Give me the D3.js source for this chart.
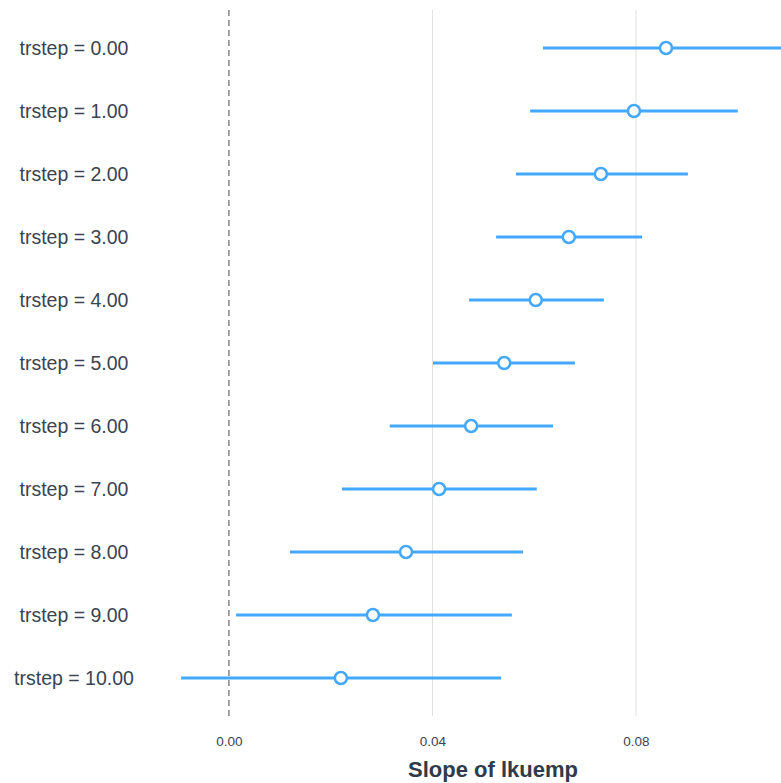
<!DOCTYPE html>
<html>
  <head>
    <meta charset="utf-8">
    <title>Slope of lkuemp</title>
    <style>
      body { margin: 0; background: #fff; }
      text { font-family: "Liberation Sans", Arial, sans-serif; }
    </style>
    <script src="https://d3js.org/d3.v7.min.js"></script>
  </head>
  <body>
    <script type="text/javascript">
      var labels = ["trstep = 0.00", "trstep = 1.00", "trstep = 2.00", "trstep = 3.00",
                    "trstep = 4.00", "trstep = 5.00", "trstep = 6.00", "trstep = 7.00",
                    "trstep = 8.00", "trstep = 9.00", "trstep = 10.00"];
      var slope = [0.0859, 0.0796, 0.0731, 0.0668, 0.0603, 0.0541, 0.0476, 0.0413, 0.0348, 0.0283, 0.0220];
      var lower = [0.0617, 0.0592, 0.0564, 0.0525, 0.0472, 0.0401, 0.0316, 0.0222, 0.0120, 0.0014, -0.0094];
      var upper = [0.1102, 0.1000, 0.0902, 0.0812, 0.0737, 0.0680, 0.0637, 0.0605, 0.0578, 0.0556, 0.0535];
      var tickValues = [0, 0.04, 0.08];
      var tickLabels = ["0.00", "0.04", "0.08"];
      var xDomain = [-0.0165, 0.1085];

      var width = 781, height = 783;
      var margin = {top: 10, right: 0, bottom: 67, left: 145};

      var svg = d3.select("body").append("svg")
        .attr("width", width)
        .attr("height", height);

      var x = d3.scaleLinear()
        .domain(xDomain)
        .range([margin.left, width - margin.right]);

      var y = d3.scalePoint()
        .domain(labels)
        .range([48, 678]);

      svg.append("defs").append("clipPath").attr("id", "clip")
        .append("rect")
          .attr("x", margin.left - 5).attr("y", 0)
          .attr("width", width - margin.left + 5).attr("height", height);

      // vertical grid
      svg.selectAll("line.grid")
        .data(tickValues.filter(function(d) { return d !== 0; }))
        .enter().append("line")
          .attr("class", "grid")
          .attr("x1", function(d) { return x(d); })
          .attr("x2", function(d) { return x(d); })
          .attr("y1", margin.top)
          .attr("y2", height - margin.bottom)
          .attr("stroke", "#e1e1e1")
          .attr("stroke-width", 1);

      // zero line
      svg.append("line")
        .attr("x1", x(0)).attr("x2", x(0))
        .attr("y1", margin.top).attr("y2", height - margin.bottom)
        .attr("stroke", "#444")
        .attr("stroke-width", 1)
        .attr("stroke-dasharray", "6,4");

      var rows = labels.map(function(l, i) {
        return {label: l, est: slope[i], lo: lower[i], hi: upper[i]};
      });

      var g = svg.append("g").attr("clip-path", "url(#clip)");

      g.selectAll("line.ci")
        .data(rows)
        .enter().append("line")
          .attr("class", "ci")
          .attr("x1", function(d) { return x(d.lo); })
          .attr("x2", function(d) { return x(d.hi); })
          .attr("y1", function(d) { return y(d.label); })
          .attr("y2", function(d) { return y(d.label); })
          .attr("stroke", "#45a8ff")
          .attr("stroke-width", 3);

      g.selectAll("circle")
        .data(rows)
        .enter().append("circle")
          .attr("cx", function(d) { return x(d.est); })
          .attr("cy", function(d) { return y(d.label); })
          .attr("r", 6)
          .attr("fill", "#fff")
          .attr("stroke", "#45a8ff")
          .attr("stroke-width", 2.5);

      // y labels
      svg.selectAll("text.ylab")
        .data(labels)
        .enter().append("text")
          .attr("class", "ylab")
          .attr("x", 74)
          .attr("y", function(d) { return y(d); })
          .attr("dy", "0.35em")
          .attr("text-anchor", "middle")
          .attr("fill", "#3b4351")
          .style("font-size", "19.5px")
          .text(function(d) { return d; });

      // x axis
      var xAxis = d3.axisBottom(x)
        .tickValues(tickValues)
        .tickFormat(function(d, i) { return tickLabels[i]; })
        .tickSize(0)
        .tickPadding(20);

      var ax = svg.append("g")
        .attr("transform", "translate(0," + (height - margin.bottom) + ")")
        .call(xAxis);
      ax.select(".domain").remove();
      ax.selectAll("text")
        .attr("fill", "#3b4351")
        .style("font-size", "13.5px")
        .style("font-family", "'Liberation Sans', Arial, sans-serif");

      svg.append("text")
        .attr("x", 493)
        .attr("y", 777)
        .attr("text-anchor", "middle")
        .attr("fill", "#2f3a4a")
        .style("font-size", "22px")
        .style("font-weight", "bold")
        .text("Slope of lkuemp");
    </script>
  </body>
</html>
